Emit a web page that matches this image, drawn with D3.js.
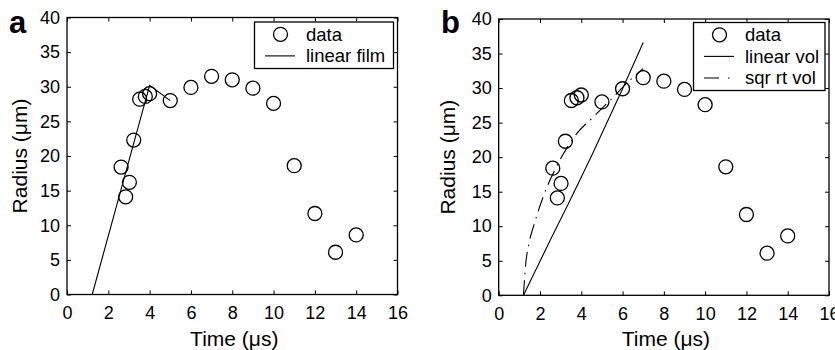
<!DOCTYPE html>
<html>
<head>
<meta charset="utf-8">
<script src="https://cdn.jsdelivr.net/npm/d3@7"></script>
<style>
  html, body { margin: 0; padding: 0; background: #fff; }
  svg { display: block; }
  text { font-family: "Liberation Sans", Arial, Helvetica, sans-serif; fill: #000; }
</style>
</head>
<body>
<svg id="chart" width="835" height="350"></svg>
<script>
// ---------- data ----------
const timeUs   = [2.62, 2.84, 3.02, 3.23, 3.52, 3.79, 4.0, 5.0, 6.0, 7.0, 8.0, 9.0, 10.0, 11.0, 12.0, 13.0, 14.0];
const radiusUm = [18.4, 14.1, 16.2, 22.3, 28.2, 28.6, 29.0, 28.0, 29.9, 31.5, 31.0, 29.8, 27.6, 18.6, 11.7, 6.1, 8.6];

const linearFilmT = [1.22, 4.0, 5.0];
const linearFilmR = [0, 30.2, 28.0];

const linearVolT = [1.2, 2.5, 3.5, 4.5, 6.0, 7.0];
const linearVolR = [0, 8.0, 14.0, 20.2, 29.9, 36.6];

const sqrRtVolT = [1.2, 1.27, 1.5, 1.68, 2.16, 2.97, 3.78, 4.58, 5.55, 6.52, 7.0];
const sqrRtVolR = [0, 3.2, 8.0, 9.9, 14.3, 19.6, 23.4, 25.8, 28.7, 31.6, 32.8];

const xTicks = [0, 2, 4, 6, 8, 10, 12, 14, 16];
const yTicks = [0, 5, 10, 15, 20, 25, 30, 35, 40];
const xDomain = [0, 16];
const yDomain = [0, 40];

const panelLabels = ["a", "b"];
const xTitle = "Time (\u03bcs)";
const yTitle = "Radius (\u03bcm)";
const legendA = ["data", "linear film"];
const legendB = ["data", "linear vol", "sqr rt vol"];

// ---------- layout ----------
const svg = d3.select("#chart");
svg.append("rect").attr("width", 835).attr("height", 350).attr("fill", "#fff");

const panels = [
  { left: 67, right: 397.5, top: 17.5, bottom: 294.5, labelX: 9, ytitleX: 27,
    lines: [{ t: linearFilmT, r: linearFilmR, dash: null, smooth: false }],
    legend: { x: 254.5, y: 22, w: 139, h: 46.5, items: legendA, dashes: [null] } },
  { left: 498.7, right: 829, top: 19, bottom: 295.3, labelX: 441, ytitleX: 455,
    lines: [{ t: linearVolT, r: linearVolR, dash: null, smooth: false },
            { t: sqrRtVolT, r: sqrRtVolR, dash: "15,6,1.5,6", smooth: true }],
    legend: { x: 693.5, y: 22.5, w: 131.5, h: 68, items: legendB, dashes: [null, "15,9,1.5,9"] } }
];

panels.forEach((p, i) => {
  const x = d3.scaleLinear().domain(xDomain).range([p.left, p.right]);
  const y = d3.scaleLinear().domain(yDomain).range([p.bottom, p.top]);
  const g = svg.append("g");

  // axes with inward ticks
  const ax = g.append("g").attr("transform", `translate(0,${p.bottom})`)
    .call(d3.axisBottom(x).tickValues(xTicks).tickSizeInner(-4).tickSizeOuter(0).tickPadding(12).tickFormat(d3.format("d")));
  const ay = g.append("g").attr("transform", `translate(${p.left},0)`)
    .call(d3.axisLeft(y).tickValues(yTicks).tickSizeInner(-4).tickSizeOuter(0).tickPadding(7).tickFormat(d3.format("d")));
  const at = g.append("g").attr("transform", `translate(0,${p.top})`)
    .call(d3.axisTop(x).tickValues(xTicks).tickSizeInner(-4).tickSizeOuter(0).tickFormat(""));
  const ar = g.append("g").attr("transform", `translate(${p.right},0)`)
    .call(d3.axisRight(y).tickValues(yTicks).tickSizeInner(-4).tickSizeOuter(0).tickFormat(""));
  [ax, ay, at, ar].forEach(a => {
    a.select(".domain").remove();
    a.selectAll("line").attr("stroke", "#000").attr("stroke-width", 1);
    a.selectAll("text").attr("font-size", 18).attr("fill", "#000")
      .style("font-family", '"Liberation Sans", Arial, Helvetica, sans-serif');
  });

  // box
  g.append("rect").attr("x", p.left).attr("y", p.top)
    .attr("width", p.right - p.left).attr("height", p.bottom - p.top)
    .attr("fill", "none").attr("stroke", "#000").attr("stroke-width", 1.3);

  // fit lines
  p.lines.forEach(L => {
    const pts = L.t.map((t, k) => [t, L.r[k]]);
    g.append("path").datum(pts)
      .attr("d", d3.line().x(d => x(d[0])).y(d => y(d[1]))
        .curve(L.smooth ? d3.curveMonotoneX : d3.curveLinear))
      .attr("fill", "none").attr("stroke", "#000").attr("stroke-width", 1.1)
      .attr("stroke-dasharray", L.dash);
  });

  // data circles
  g.selectAll("circle.pt").data(timeUs.map((t, k) => [t, radiusUm[k]])).enter()
    .append("circle").attr("class", "pt")
    .attr("cx", d => x(d[0])).attr("cy", d => y(d[1])).attr("r", 7)
    .attr("fill", "none").attr("stroke", "#000").attr("stroke-width", 1.3);

  // legend
  const lg = p.legend;
  g.append("rect").attr("x", lg.x).attr("y", lg.y).attr("width", lg.w).attr("height", lg.h)
    .attr("fill", "#fff").attr("stroke", "#000").attr("stroke-width", 1.3);
  lg.items.forEach((name, k) => {
    const cy = lg.y + 12.3 + k * 21.6;
    if (k === 0) {
      g.append("circle").attr("cx", lg.x + 26).attr("cy", cy).attr("r", 7)
        .attr("fill", "none").attr("stroke", "#000").attr("stroke-width", 1.3);
    } else {
      g.append("line").attr("x1", lg.x + 10.5).attr("x2", lg.x + 40.5)
        .attr("y1", cy).attr("y2", cy)
        .attr("stroke", "#000").attr("stroke-width", 1.1)
        .attr("stroke-dasharray", lg.dashes[k - 1]);
    }
    g.append("text").attr("x", lg.x + 51.5).attr("y", cy + 6.3)
      .attr("font-size", 18.5).text(name);
  });

  // titles
  g.append("text").attr("x", (p.left + p.right) / 2 + 2).attr("y", 346)
    .attr("text-anchor", "middle").attr("font-size", 21).text(xTitle);
  g.append("text")
    .attr("transform", `translate(${p.ytitleX},${(p.top + p.bottom) / 2}) rotate(-90)`)
    .attr("text-anchor", "middle").attr("font-size", 21).text(yTitle);

  // panel label
  g.append("text").attr("x", p.labelX).attr("y", 32.5)
    .attr("font-size", 31).attr("font-weight", "bold").text(panelLabels[i]);
});
</script>
</body>
</html>
